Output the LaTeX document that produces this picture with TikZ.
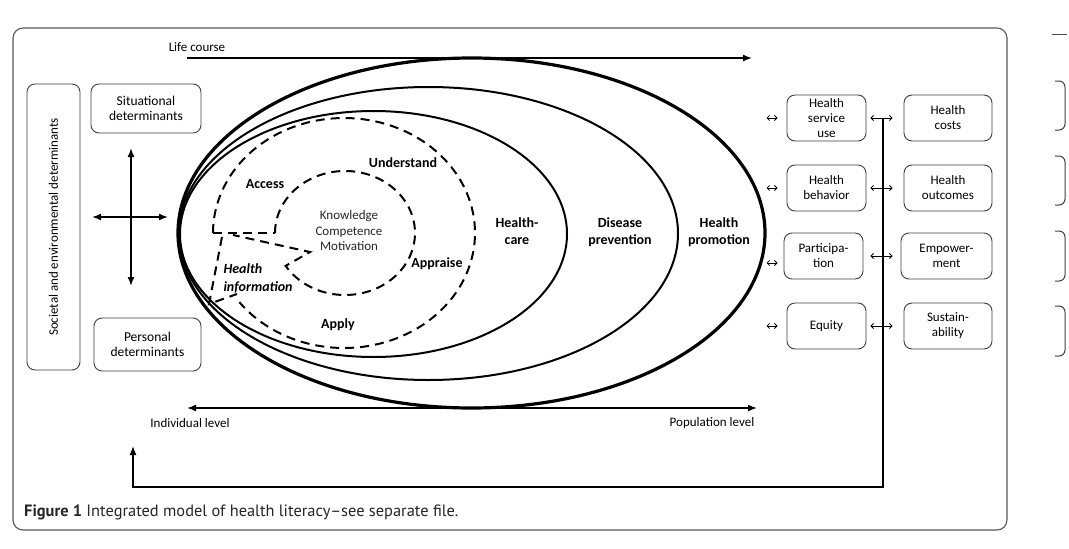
\documentclass[tikz,border=0pt]{standalone}
\usepackage{fontspec}
\setmainfont{Carlito}
\newfontfamily\capfont{PT Sans}
\usetikzlibrary{arrows.meta}
\begin{document}
\begin{tikzpicture}[x=1pt,y=-1pt,
  frame/.style={draw=black!65, line width=1.1pt, rounded corners=10pt},
  box/.style={draw=black!75, line width=0.9pt, rounded corners=8pt, align=center, inner sep=0pt, text=black},
  lbox/.style={box, font=\fontsize{13.5}{15.5}\selectfont},
  rbox/.style={box, font=\fontsize{13}{15}\selectfont, minimum height=46pt},
  lbl/.style={font=\bfseries\fontsize{14}{17.5}\selectfont, align=center, text=black},
  ell/.style={line width=2pt},
  dsh/.style={line width=2pt, dash pattern=on 9pt off 6pt},
  arr/.style={line width=1.5pt, -{Latex[length=9pt,width=7pt]}},
  darr/.style={line width=1.5pt, {Latex[length=9pt,width=7pt]}-{Latex[length=9pt,width=7pt]}},
  sarr/.style={line width=0.8pt, {Straight Barb[length=2.5pt,width=5pt]}-{Straight Barb[length=2.5pt,width=5pt]}},
  fb/.style={line width=1.3pt, -{Latex[length=9pt,width=7pt]}},
  txt/.style={font=\fontsize{13}{15}\selectfont, text=black}
]
\useasboundingbox (0,0) rectangle (1069,549);
\fill[white] (0,0) rectangle (1069,549);

% outer frame
\draw[frame] (13,28) rectangle (1007,530);

% life course
\node[txt] (life) at (197,47) {Life course};
\coordinate (lc1) at (187,58);
\coordinate (lc2) at (752,58);
\draw[arr] (lc1) -- (lc2);

% left boxes
\node[lbox, minimum width=53pt, minimum height=286pt] (soc) at (53.5,227) {};
\node[txt, rotate=90] (soctxt) at (soc.center) {Societal and environmental determinants};
\node[lbox, minimum width=110pt, minimum height=49pt] (sit) at (146,108.5) {Situational\\determinants};
\node[lbox, minimum width=107pt, minimum height=53pt] (pers) at (147.5,344.5) {Personal\\determinants};

% cross
\coordinate (cu) at (131,148);
\coordinate (cd) at (131,286);
\coordinate (cl) at (92,217);
\coordinate (cr) at (168,217);
\draw[darr] (cu) -- (cd);
\draw[darr] (cl) -- (cr);

% ellipses
\draw[line width=3.2pt] (471.5,233) ellipse [x radius=293.5pt, y radius=175pt];
\draw[ell] (428.5,233.5) ellipse [x radius=249.5pt, y radius=146.5pt];
\draw[ell] (373.5,234) ellipse [x radius=193.5pt, y radius=123pt];

% dashed shapes
\draw[dsh] plot[domain=-180:143, samples=90, smooth] ({344+131*cos(\x)},{233+115*sin(\x)});
\draw[dsh] plot[domain=-180:148, samples=70, smooth] ({345+70*cos(\x)},{233+62*sin(\x)}) -- (310,252) -- (233,235);
\draw[dsh] (213,233) -- (275,233);
\draw[dsh] (222,237) -- (209,304) -- (237,294);

% labels
\node[lbl] (access) at (265,184) {Access};
\node[lbl] (understand) at (403,163) {Understand};
\node[txt, align=center, font=\fontsize{13}{15.5}\selectfont, text=black!85] (kcm) at (349,231) {Knowledge\\Competence\\Motivation};
\node[lbl] (appraise) at (437,264) {Appraise};
\node[lbl, font=\bfseries\itshape\fontsize{14}{18}\selectfont, align=left, anchor=west] (hinfo) at (220,278) {Health\\information};
\node[lbl] (apply) at (338,325) {Apply};
\node[lbl] (hcare) at (517,231) {Health-\\care};
\node[lbl] (dprev) at (620,232) {Disease\\prevention};
\node[lbl] (hprom) at (719,232) {Health\\promotion};

% bottom axis
\coordinate (ind) at (187,408);
\coordinate (pop) at (757,408);
\draw[darr] (ind) -- (pop);
\node[txt] (indl) at (190,423) {Individual level};
\node[txt] (popl) at (712,423) {Population level};

% right boxes
\node[rbox, minimum width=79pt] (hsu) at (826.5,118) {Health\\service\\use};
\node[rbox, minimum width=79pt] (hb) at (826.5,188) {Health\\behavior};
\node[rbox, minimum width=79pt] (part) at (823.5,256) {Participa-\\tion};
\node[rbox, minimum width=79pt] (eq) at (826.5,326) {Equity};
\node[rbox, minimum width=88pt] (hc) at (948,118) {Health\\costs};
\node[rbox, minimum width=88pt] (ho) at (948,188) {Health\\outcomes};
\node[rbox, minimum width=91pt] (emp) at (946.5,256) {Empower-\\ment};
\node[rbox, minimum width=88pt] (sus) at (948,326) {Sustain-\\ability};

% small arrows left of first column
\draw[sarr] ([xshift=-20pt]hsu.west) -- ([xshift=-9pt]hsu.west);
\draw[sarr] ([xshift=-20pt]hb.west) -- ([xshift=-9pt]hb.west);
\draw[sarr] ([xshift=-17pt,yshift=-7pt]part.west) -- ([xshift=-6pt,yshift=-7pt]part.west);
\draw[sarr] ([xshift=-20pt]eq.west) -- ([xshift=-9pt]eq.west);

% arrows between columns
\draw[sarr] ([xshift=4pt]hsu.east) -- ([xshift=-11pt]hc.west);
\draw[sarr] ([xshift=4pt]hb.east) -- ([xshift=-11pt]ho.west);
\draw[sarr] ([xshift=7pt]part.east) -- ([xshift=-8pt]emp.west);
\draw[sarr] ([xshift=4pt]eq.east) -- ([xshift=-11pt]sus.west);

% feedback line
\coordinate (fbs) at (883,118);
\coordinate (fbe) at (133,446);
\draw[fb] (fbs) -- (883,487) -| (fbe);

% caption
\node[anchor=west, font=\capfont\fontsize{16.4}{19}\selectfont, text=black!85, inner sep=0pt] (cap) at (24,512) {\textbf{Figure 1} Integrated model of health literacy–see separate file.};

% cropped neighbouring marks at the right edge
\draw[black!70, line width=1pt] (1052,34) -- (1067,34);
\foreach \ya/\yb in {81/130, 156/205, 231/281, 306/356}{
  \draw[black!75, line width=1pt, rounded corners=6pt] (1055,\ya) -- (1065,\ya) -- (1065,\yb) -- (1055,\yb);
}
\end{tikzpicture}
\end{document}
